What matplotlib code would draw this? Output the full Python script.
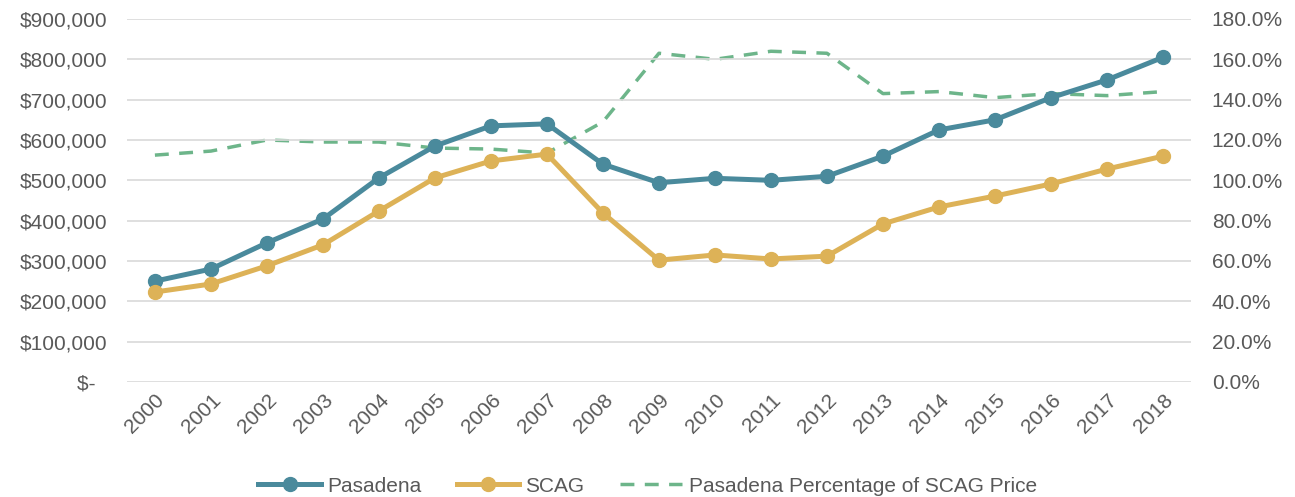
import matplotlib.pyplot as plt
from matplotlib.ticker import FuncFormatter

years = [str(y) for y in range(2000, 2019)]
pasadena = [250000, 280000, 345000, 404000, 506000, 585000, 635000, 640000, 540000,
            494000, 505000, 500000, 510000, 560000, 625000, 650000, 705000, 749000, 805000]
scag = [223000, 243000, 288000, 340000, 424000, 506000, 548000, 565000, 419000,
        302000, 315000, 305000, 312000, 392000, 434000, 461000, 491000, 528000, 560000]
pct = [112.5, 114.5, 120, 119, 119, 116, 115.5, 113.5, 129,
       163, 160, 164, 163, 143, 144, 141, 143, 142, 144]

plt.rcParams['font.family'] = ['Liberation Sans', 'DejaVu Sans']
txt = '#595959'
fs = 15

fig = plt.figure(figsize=(12.95, 4.97), dpi=100)
ax = fig.add_axes([0.098, 0.2314, 0.8217, 0.7304])
ax2 = ax.twinx()

x = range(len(years))
l1, = ax.plot(x, pasadena, color='#4A8A9C', lw=3.6, marker='o', ms=10, label='Pasadena', zorder=3)
l2, = ax.plot(x, scag, color='#DDB257', lw=3.6, marker='o', ms=10, label='SCAG', zorder=3)
l3, = ax2.plot(x, pct, color='#6DB58A', lw=2.5, ls=(0, (4, 3)), label='Pasadena Percentage of SCAG Price')

ax.set_ylim(0, 900000)
ax.set_yticks(range(0, 900001, 100000))
ax.yaxis.set_major_formatter(FuncFormatter(lambda v, p: '$-  ' if v == 0 else '${:,.0f}'.format(v)))
ax2.set_ylim(0, 180)
ax2.set_yticks(range(0, 181, 20))
ax2.yaxis.set_major_formatter(FuncFormatter(lambda v, p: '{:.1f}%'.format(v)))

ax.set_xlim(-0.5, len(years) - 0.5)
ax.set_xticks(list(x))
ax.set_xticklabels(years, rotation=45, ha='right', rotation_mode='anchor')

ax.grid(axis='y', color='#d9d9d9', lw=1.2)
ax.set_axisbelow(True)
for a in (ax, ax2):
    for s in a.spines.values():
        s.set_visible(False)
    a.tick_params(length=0, labelsize=fs, labelcolor=txt)
ax.tick_params(axis='y', pad=14)
ax.tick_params(axis='x', pad=6)
ax2.tick_params(axis='y', pad=15)
ax.set_zorder(ax2.get_zorder() + 1)
ax.patch.set_visible(False)

fig.legend(handles=[l1, l2, l3], loc='lower center', bbox_to_anchor=(0.5, -0.035), ncol=3,
           frameon=False, fontsize=fs, labelcolor=txt, handlelength=3, handletextpad=0.3,
           columnspacing=1.7)

fig.savefig('out.png', dpi=100)
